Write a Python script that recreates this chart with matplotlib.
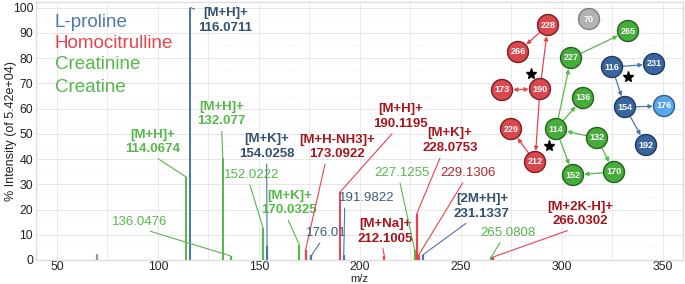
import matplotlib
matplotlib.use("Agg")
import matplotlib.pyplot as plt
from matplotlib.patches import Circle, FancyArrowPatch
from matplotlib.ticker import MultipleLocator

plt.rcParams['font.family'] = ['Liberation Sans', 'DejaVu Sans']

# ---------------- data ----------------
peak_mz = [70.0, 114.0674, 116.0711, 132.077, 136.0476, 152.0222, 154.0258,
           170.0325, 173.0922, 176.01, 190.1195, 191.9822, 212.1005,
           227.1255, 228.0753, 229.1306, 231.1337, 265.0808, 266.0302]
peak_int = [2.4, 32.8, 100.0, 40.4, 1.6, 12.7, 5.5,
            6.0, 4.0, 1.8, 26.9, 2.0, 1.5,
            4.0, 18.2, 2.0, 2.0, 1.3, 1.2]
peak_cmp = ['none', 'creat', 'pro', 'creat', 'creat', 'creat', 'pro',
            'creat', 'homo', 'pro', 'homo', 'pro', 'homo',
            'creat', 'homo', 'homo', 'pro', 'creat', 'homo']

# annotations: (peak index -> adduct)
ann_adduct = {1: '[M+H]+', 2: '[M+H]+', 3: '[M+H]+', 6: '[M+K]+', 7: '[M+K]+',
              8: '[M+H-NH3]+', 10: '[M+H]+', 12: '[M+Na]+', 14: '[M+K]+',
              16: '[2M+H]+', 18: '[M+2K-H]+'}
ann_plain = [4, 5, 9, 11, 13, 15, 17]
ann_text_override = {3: '132.077', 9: '176.01'}

legend_names = ['L-proline', 'Homocitrulline', 'Creatinine', 'Creatine']
legend_keys = ['pro', 'homo', 'creat', 'creat']

# network
node_labels = ['228', '70', '265', '266', '227', '116', '231', '173', '190', '136',
               '154', '176', '229', '114', '132', '192', '212', '152', '170']
node_group = ['homo', 'none', 'creat', 'homo', 'creat', 'pro', 'pro', 'homo', 'homo', 'creat',
              'pro', 'pro2', 'homo', 'creat', 'creat', 'pro', 'homo', 'creat', 'creat']
edges = [('228', '266', 'homo', False), ('190', '228', 'homo', False),
         ('173', '190', 'homo', True), ('190', '212', 'homo', False),
         ('212', '229', 'homo', False),
         ('114', '227', 'creat', False), ('227', '265', 'creat', False),
         ('114', '136', 'creat', False), ('132', '114', 'creat', False),
         ('114', '152', 'creat', False), ('132', '170', 'creat', False),
         ('170', '152', 'creat', False),
         ('116', '231', 'pro', False), ('116', '154', 'pro', False),
         ('154', '176', 'pro', False), ('154', '192', 'pro', False)]

# ---------------- styles / layout ----------------
line_col = {'pro': '#4a76ad', 'homo': '#e8434d', 'creat': '#55b84a', 'none': '#999999'}
lab_col = {'pro': '#34506f', 'homo': '#a8141c', 'creat': '#55b84a'}
plain_col = {'pro': '#3f5b7a', 'homo': '#b8262c', 'creat': '#55b84a'}
leg_col = {'pro': '#4a78b2', 'homo': '#e8434d', 'creat': '#55b84a'}

# label centre positions (m/z, intensity) and connector relative anchor
ann_pos = {1: (97.4, 46.8, (0.5, 0.0)), 2: (133.5, 95.0, (0.0, 0.85)),
           3: (131.5, 57.8, (0.5, 0.0)), 6: (153.8, 45.0, (0.5, 0.0)),
           7: (165.0, 22.6, (0.45, 0.0)), 8: (188.8, 44.8, (0.35, 0.0)),
           10: (220.3, 56.8, (0.4, 0.0)), 12: (212.4, 11.4, (0.45, 0.0)),
           14: (244.6, 47.2, (0.35, 0.0)), 16: (260.4, 21.2, (0.3, 0.0)),
           18: (308.9, 18.2, (0.45, 0.0)),
           4: (91.1, 15.0, (0.5, 0.0)), 5: (146.3, 33.7, (0.45, 0.0)),
           9: (183.5, 10.7, (0.4, 0.0)), 11: (203.5, 24.6, (0.1, 0.0)),
           13: (220.8, 34.5, (0.45, 0.0)), 15: (253.5, 34.5, (0.45, 0.0)),
           17: (273.3, 10.7, (0.4, 0.0))}

node_xy = {'228': (548, 25), '70': (589, 19), '265': (628, 31), '266': (518, 52),
           '227': (571, 58), '116': (612, 67), '231': (654, 64), '173': (502, 90),
           '190': (540, 89), '136': (583, 98), '154': (625, 107), '176': (664, 106),
           '229': (511, 129), '114': (556, 129), '132': (597, 138), '192': (646, 145),
           '212': (535, 162), '152': (573, 175), '170': (614, 172)}
node_fill = {'homo': '#d9484f', 'creat': '#46ad3c', 'pro': '#3a66a0', 'pro2': '#5aa6e6',
             'none': '#b3b3b3'}
node_edge = {'homo': '#7a1e22', 'creat': '#24621c', 'pro': '#1f3a5e', 'pro2': '#2b5f92',
             'none': '#808080'}
stars_xy = [(531, 74), (628, 77), (549, 146)]

W, H = 685, 284
AX_L, AX_B, AX_W, AX_H = 36, 24, 647, 258
fig = plt.figure(figsize=(W / 100, H / 100), dpi=100)
ax = fig.add_axes([AX_L / W, AX_B / H, AX_W / W, AX_H / H])
ax.set_xlim(39.6, 360)
ax.set_ylim(0, 102.2)
ax.xaxis.set_major_locator(MultipleLocator(50))
ax.xaxis.set_minor_locator(MultipleLocator(25))
ax.yaxis.set_major_locator(MultipleLocator(10))
ax.yaxis.set_minor_locator(MultipleLocator(5))
ax.grid(True, which='major', axis='y', color='#e6e6e6', lw=0.7)
ax.grid(True, which='minor', axis='y', color='#eeeeee', lw=0.6, ls=':')
ax.grid(True, which='both', axis='x', color='#eaeaea', lw=0.7)
ax.set_axisbelow(True)
ax.tick_params(which='both', length=0, labelsize=8.8, colors='#222222')
ax.tick_params(axis='x', pad=0.5)
ax.tick_params(axis='y', pad=2)
for s in ax.spines.values():
    s.set_color('#dddddd')
    s.set_linewidth(1.0)
ax.set_xlabel('m/z', fontsize=8, color='#222222', va='bottom')
ax.xaxis.set_label_coords(0.5, -23.8 / AX_H)
ax.set_ylabel('% Intensity (of 5.42e+04)', fontsize=9, color='#222222', va='center')
ax.yaxis.set_label_coords(-25 / AX_W, 0.5)

for mz, it, c in zip(peak_mz, peak_int, peak_cmp):
    ax.vlines(mz, 0, it, color=line_col[c], lw=1.4 if it > 20 else 1.6, zorder=3)

for i in list(ann_adduct) + ann_plain:
    cx, cy, rel = ann_pos[i]
    c = peak_cmp[i]
    num = ann_text_override.get(i, f'{peak_mz[i]:.4f}')
    if i in ann_adduct:
        txt = ann_adduct[i] + '\n' + num
        col, fw = lab_col[c], 'bold'
    else:
        txt = num
        col, fw = plain_col[c], 'normal'
    ax.annotate(txt, xy=(peak_mz[i], peak_int[i]), xytext=(cx, cy),
                textcoords='data', ha='center', va='center', fontsize=9.5,
                fontweight=fw, color=col, linespacing=1.3, zorder=4,
                arrowprops=dict(arrowstyle='-', color=line_col[c], lw=0.8,
                                shrinkA=1, shrinkB=0, relpos=rel))

leg_y = [94.0, 85.6, 77.6, 68.2]
for name, key, y in zip(legend_names, legend_keys, leg_y):
    ax.text(49.0, y, name, color=leg_col[key], fontsize=13.5, va='center', ha='left')

# network overlay in pixel coordinates
ov = fig.add_axes([0, 0, 1, 1])
ov.set_xlim(0, W)
ov.set_ylim(H, 0)
ov.axis('off')
R = 10.5
for (a, b, g, both) in edges:
    p1, p2 = node_xy[a], node_xy[b]
    arr = FancyArrowPatch(p1, p2, arrowstyle='<|-|>' if both else '-|>',
                          mutation_scale=6, color=line_col[g], lw=0.9,
                          shrinkA=R * 0.72 + 0.5, shrinkB=R * 0.72 + 0.5, zorder=5)
    ov.add_patch(arr)
for lab, g in zip(node_labels, node_group):
    x, y = node_xy[lab]
    ov.add_patch(Circle((x, y), R, facecolor=node_fill[g], edgecolor=node_edge[g],
                        lw=1.0, zorder=6))
    ov.text(x, y, lab, color='white', fontsize=6.5, fontweight='bold',
            ha='center', va='center', zorder=7)
for (x, y) in stars_xy:
    ov.plot(x, y, marker='*', color='black', ms=8, zorder=7)

fig.savefig('out.png', dpi=100)
